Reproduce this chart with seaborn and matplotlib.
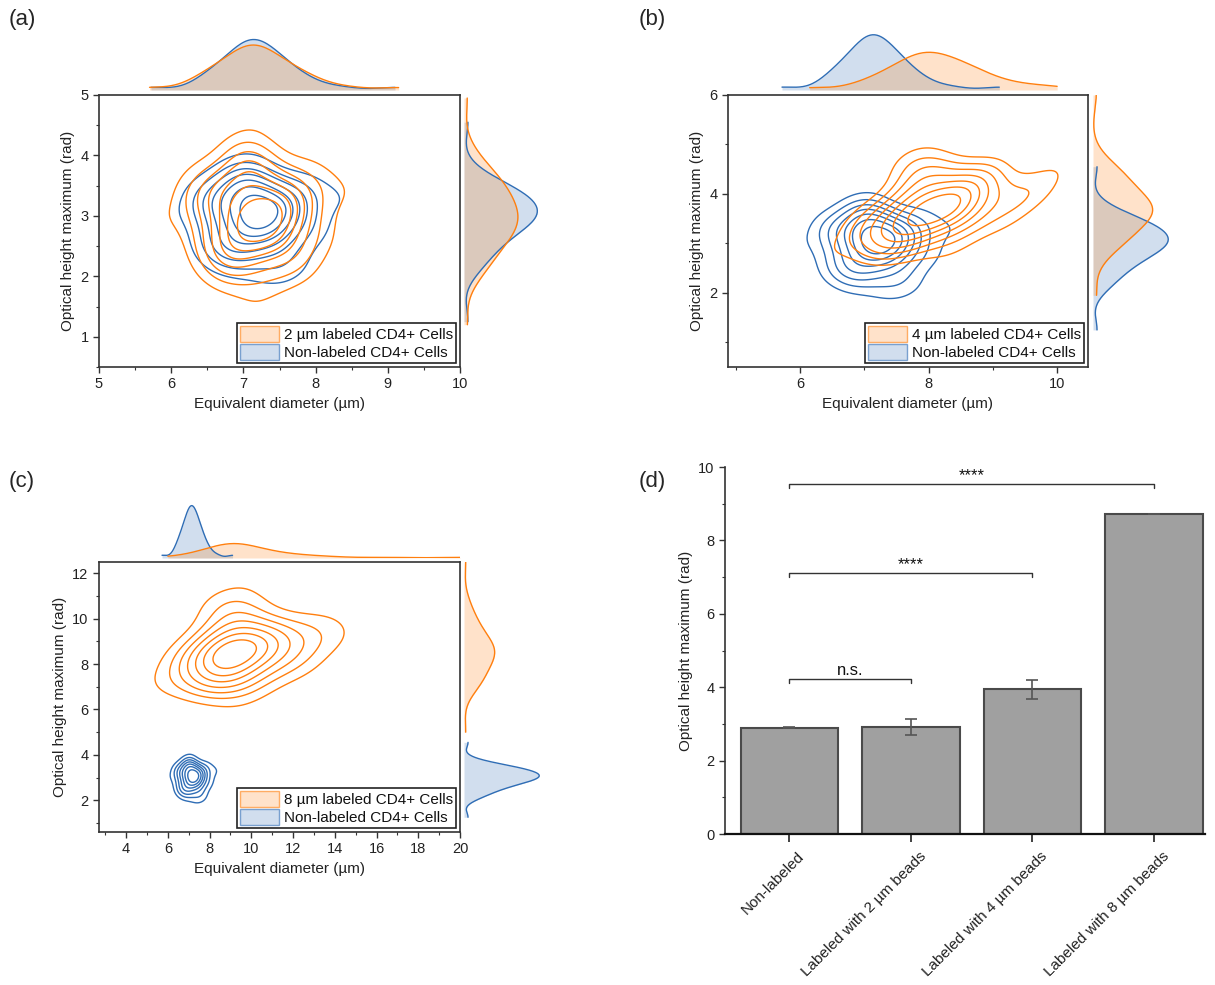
import numpy as np
import matplotlib
matplotlib.use("Agg")
import matplotlib.pyplot as plt
import matplotlib.patches as mpatches
import matplotlib.transforms as mtransforms
from matplotlib.ticker import MultipleLocator
import seaborn as sns

# ── Data (cell measurements, read off the figure) ─────────────────────────────
# non-labeled CD4+ cells (shared by panels a, b, c)
x_nl = [7.12, 6.90, 7.35, 7.05, 6.72, 7.65, 7.22, 6.98, 7.45, 6.55,
        7.75, 7.16, 6.80, 7.30, 8.00, 6.40, 7.02, 7.52, 6.92, 7.40,
        5.72, 8.35, 7.10, 6.65, 7.26, 9.10, 7.00, 7.58, 6.50, 7.38,
        7.14, 6.85, 7.88, 7.20, 6.95, 7.48, 6.60, 7.70, 7.08, 7.28]
y_nl = [3.05, 3.28, 2.85, 2.62, 3.12, 3.22, 3.45, 2.98, 2.50, 2.88,
        3.02, 3.55, 3.36, 3.15, 2.75, 3.20, 2.35, 3.32, 2.70, 3.06,
        2.92, 3.30, 1.25, 2.55, 4.55, 2.96, 3.62, 2.66, 3.42, 2.05,
        3.00, 2.25, 3.50, 2.80, 3.75, 3.18, 2.45, 2.18, 3.40, 2.92]

# labeled with 2 um beads
x_2um = [7.10, 6.85, 7.40, 7.02, 6.62, 7.72, 7.28, 6.92, 7.52, 6.48,
         7.85, 7.18, 6.72, 7.35, 8.10, 6.30, 6.97, 7.60, 6.88, 7.45,
         5.70, 8.45, 7.14, 6.55, 7.24, 9.15, 7.05, 7.66, 6.40, 7.32,
         7.12, 6.78, 7.95, 7.20, 6.99, 7.50, 6.66, 7.80, 7.03, 7.27]
y_2um = [3.02, 3.38, 2.75, 2.52, 3.20, 3.30, 3.65, 2.92, 2.38, 2.82,
         3.10, 3.80, 3.52, 3.12, 2.65, 3.25, 2.18, 3.46, 2.60, 3.02,
         2.88, 3.42, 1.20, 2.45, 4.95, 2.92, 3.95, 2.56, 3.60, 1.90,
         2.98, 2.08, 3.72, 2.70, 4.10, 3.16, 2.30, 2.12, 3.56, 2.78]

# labeled with 4 um beads
x_4um = [8.00, 7.70, 8.35, 7.90, 7.40, 8.70, 8.15, 7.78, 8.50, 7.20,
         9.00, 8.05, 7.55, 8.28, 9.35, 6.90, 7.95, 8.60, 7.65, 8.42,
         6.15, 10.00, 8.02, 7.30, 8.80, 9.65, 7.85, 8.65, 7.05, 8.35,
         8.10, 7.60, 8.85, 7.98, 7.72, 8.48, 7.45, 9.15, 7.92, 8.25]
y_4um = [3.75, 3.85, 3.62, 3.35, 3.45, 4.15, 4.25, 3.62, 3.40, 3.15,
         4.05, 4.35, 3.78, 3.80, 3.90, 3.20, 3.10, 4.25, 3.35, 3.82,
         2.60, 4.50, 1.95, 3.05, 6.00, 4.00, 4.55, 3.55, 3.60, 2.85,
         3.72, 3.00, 4.45, 3.58, 4.75, 3.95, 2.95, 3.40, 4.30, 3.68]

# labeled with 8 um beads
x_8um = [9.20, 8.70, 9.60, 9.00, 8.30, 10.6, 9.40, 8.90, 10.1, 7.80,
         11.6, 9.30, 8.50, 9.80, 12.4, 7.20, 9.10, 11.0, 8.80, 10.0,
         6.00, 13.8, 9.20, 8.10, 10.3, 20.0, 9.05, 12.0, 7.50, 9.70,
         9.25, 8.40, 13.2, 9.50, 8.95, 10.8, 8.00, 16.5, 9.15, 11.3]
y_8um = [8.60, 9.05, 8.25, 7.70, 8.40, 9.30, 9.70, 8.50, 7.60, 7.90,
         8.90, 10.1, 8.95, 8.70, 8.60, 8.10, 7.20, 9.50, 8.00, 8.80,
         7.20, 9.20, 5.00, 7.40, 12.5, 10.2, 10.5, 7.80, 8.50, 6.70,
         8.60, 7.10, 9.80, 8.30, 10.9, 9.00, 7.30, 7.00, 9.60, 8.20]

# panel (d)
bar_cats = ["Non-labeled", "Labeled with 2 µm beads",
            "Labeled with 4 µm beads", "Labeled with 8 µm beads"]
bar_means = [2.90, 2.92, 3.94, 8.72]
bar_errs = [0.01, 0.22, 0.25, 0.01]
sig_pairs = [(0, 1), (0, 2), (0, 3)]
sig_heights = [4.22, 7.12, 9.55]
sig_labels = ["n.s.", "****", "****"]

# ── Style ─────────────────────────────────────────────────────────────────────
sns.set_theme(style="ticks")
plt.rcParams.update({
    "font.family": ["Liberation Sans", "DejaVu Sans"],
    "axes.edgecolor": "#333333",
    "axes.linewidth": 1.2,
    "xtick.color": "#333333",
    "ytick.color": "#333333",
    "xtick.labelcolor": "#222222",
    "ytick.labelcolor": "#222222",
    "xtick.labelsize": 10.5,
    "ytick.labelsize": 10.5,
    "axes.labelsize": 11,
    "axes.labelcolor": "#222222",
})

ORANGE = "#ff7f0e"
BLUE = "#2f6db5"
FILL_ALPHA = 0.22
KDE2D = dict(levels=8, thresh=0.2, bw_adjust=0.9, linewidths=1.0)
KDE1D = dict(cut=0, bw_adjust=0.9)

W, H = 1215, 985
fig = plt.figure(figsize=(W / 100, H / 100), dpi=100)


def px(l, t, r, b):
    return [l / W, 1 - b / H, (r - l) / W, (b - t) / H]


def joint_panel(main, top, right, xl, yl, size, xlim, ylim, xstep, ystep):
    ax = fig.add_axes(px(*main))
    sns.kdeplot(x=x_nl, y=y_nl, ax=ax, color=BLUE, **KDE2D)
    sns.kdeplot(x=xl, y=yl, ax=ax, color=ORANGE, **KDE2D)
    ax.set_xlim(xlim)
    ax.set_ylim(ylim)
    ax.xaxis.set_major_locator(MultipleLocator(xstep))
    ax.xaxis.set_minor_locator(MultipleLocator(xstep / 2))
    ax.yaxis.set_major_locator(MultipleLocator(ystep))
    ax.yaxis.set_minor_locator(MultipleLocator(ystep / 2))
    ax.tick_params(which="major", direction="out", length=4, width=1)
    ax.tick_params(which="minor", direction="out", length=2.5, width=0.8)
    ax.set_xlabel("Equivalent diameter (µm)")
    ax.set_ylabel("Optical height maximum (rad)")
    handles = [
        mpatches.Patch(facecolor=(ORANGE, FILL_ALPHA), edgecolor=(ORANGE, 0.6),
                       label=f"{size} labeled CD4+ Cells"),
        mpatches.Patch(facecolor=(BLUE, FILL_ALPHA), edgecolor=(BLUE, 0.6),
                       label="Non-labeled CD4+ Cells"),
    ]
    leg = ax.legend(handles=handles, loc="lower right", fontsize=11,
                    fancybox=False, framealpha=1, edgecolor="#222222",
                    borderpad=0.2, borderaxespad=0.25, handlelength=2.5,
                    handleheight=1.25, handletextpad=0.35, labelspacing=0.1,
                    labelcolor="#111111")
    leg.get_frame().set_linewidth(1.2)

    # top marginal
    axt = fig.add_axes(px(*top))
    for xs, c in [(x_nl, BLUE), (xl, ORANGE)]:
        sns.kdeplot(x=xs, ax=axt, fill=True, color=c, alpha=FILL_ALPHA,
                    linewidth=0, **KDE1D)
        sns.kdeplot(x=xs, ax=axt, color=c, linewidth=1, **KDE1D)
    axt.set_xlim(xlim)
    axt.set_ylim(bottom=0)
    axt.margins(y=0)
    axt.axis("off")

    # right marginal
    axr = fig.add_axes(px(*right))
    for ys, c in [(y_nl, BLUE), (yl, ORANGE)]:
        sns.kdeplot(y=ys, ax=axr, fill=True, color=c, alpha=FILL_ALPHA,
                    linewidth=0, **KDE1D)
        sns.kdeplot(y=ys, ax=axr, color=c, linewidth=1, **KDE1D)
    axr.set_ylim(ylim)
    axr.set_xlim(left=0)
    axr.margins(x=0)
    axr.axis("off")
    return ax


# ── Panels (a)-(c) ────────────────────────────────────────────────────────────
joint_panel((99, 95, 460, 367), (99, 37, 460, 90), (464, 95, 541, 367),
            x_2um, y_2um, "2 µm", (5, 10), (0.5, 5), 1, 1)
joint_panel((728, 95, 1088, 367), (728, 32, 1088, 90), (1093, 95, 1172, 367),
            x_4um, y_4um, "4 µm", (4.88, 10.48), (0.5, 6), 2, 2)
joint_panel((99, 562, 460, 832), (99, 503, 460, 558), (464, 562, 543, 832),
            x_8um, y_8um, "8 µm", (2.7, 20), (0.6, 12.5), 2, 2)

# ── Panel (d): bar chart ──────────────────────────────────────────────────────
axd = fig.add_axes(px(725, 467, 1205, 834))
sns.barplot(x=bar_cats, y=bar_means, ax=axd, color="#a0a0a0",
            edgecolor="#4a4a4a", linewidth=1.5, width=0.8, saturation=1,
            errorbar=None)
axd.errorbar(range(len(bar_means)), bar_means, yerr=bar_errs, fmt="none",
             ecolor="#555555", elinewidth=1.2, capsize=4, capthick=1.2)
for (i, j), h, lab in zip(sig_pairs, sig_heights, sig_labels):
    axd.plot([i, i, j, j], [h - 0.11, h, h, h - 0.11], color="#333333",
             linewidth=1)
    axd.text((i + j) / 2, h + 0.1, lab, ha="center", va="baseline",
             fontsize=12, color="#111111")
axd.set_xlim(-0.53, 3.42)
axd.set_ylim(0, 10)
axd.yaxis.set_major_locator(MultipleLocator(2))
axd.yaxis.set_minor_locator(MultipleLocator(1))
axd.tick_params(which="major", direction="out", length=4, width=1)
axd.tick_params(which="minor", direction="out", length=2.5, width=0.8)
axd.tick_params(axis="x", length=6, width=1.3)
axd.set_ylabel("Optical height maximum (rad)")
axd.set_xlabel("")
shift = mtransforms.ScaledTranslation(8 / 100, -2 / 100, fig.dpi_scale_trans)
for lbl in axd.get_xticklabels():
    lbl.set_rotation(45)
    lbl.set_ha("right")
    lbl.set_rotation_mode("anchor")
    lbl.set_fontsize(11)
    lbl.set_transform(lbl.get_transform() + shift)
sns.despine(ax=axd)
axd.spines["bottom"].set_linewidth(1.6)
axd.spines["bottom"].set_color("#111111")

# ── Panel letters ─────────────────────────────────────────────────────────────
for lab, (x0, y0) in zip(["(a)", "(b)", "(c)", "(d)"],
                         [(9, 20), (639, 20), (9, 481), (639, 481)]):
    fig.text(x0 / W, 1 - y0 / H, lab, fontsize=16, va="center", ha="left")

fig.savefig("out.png", dpi=100)
plt.close()
